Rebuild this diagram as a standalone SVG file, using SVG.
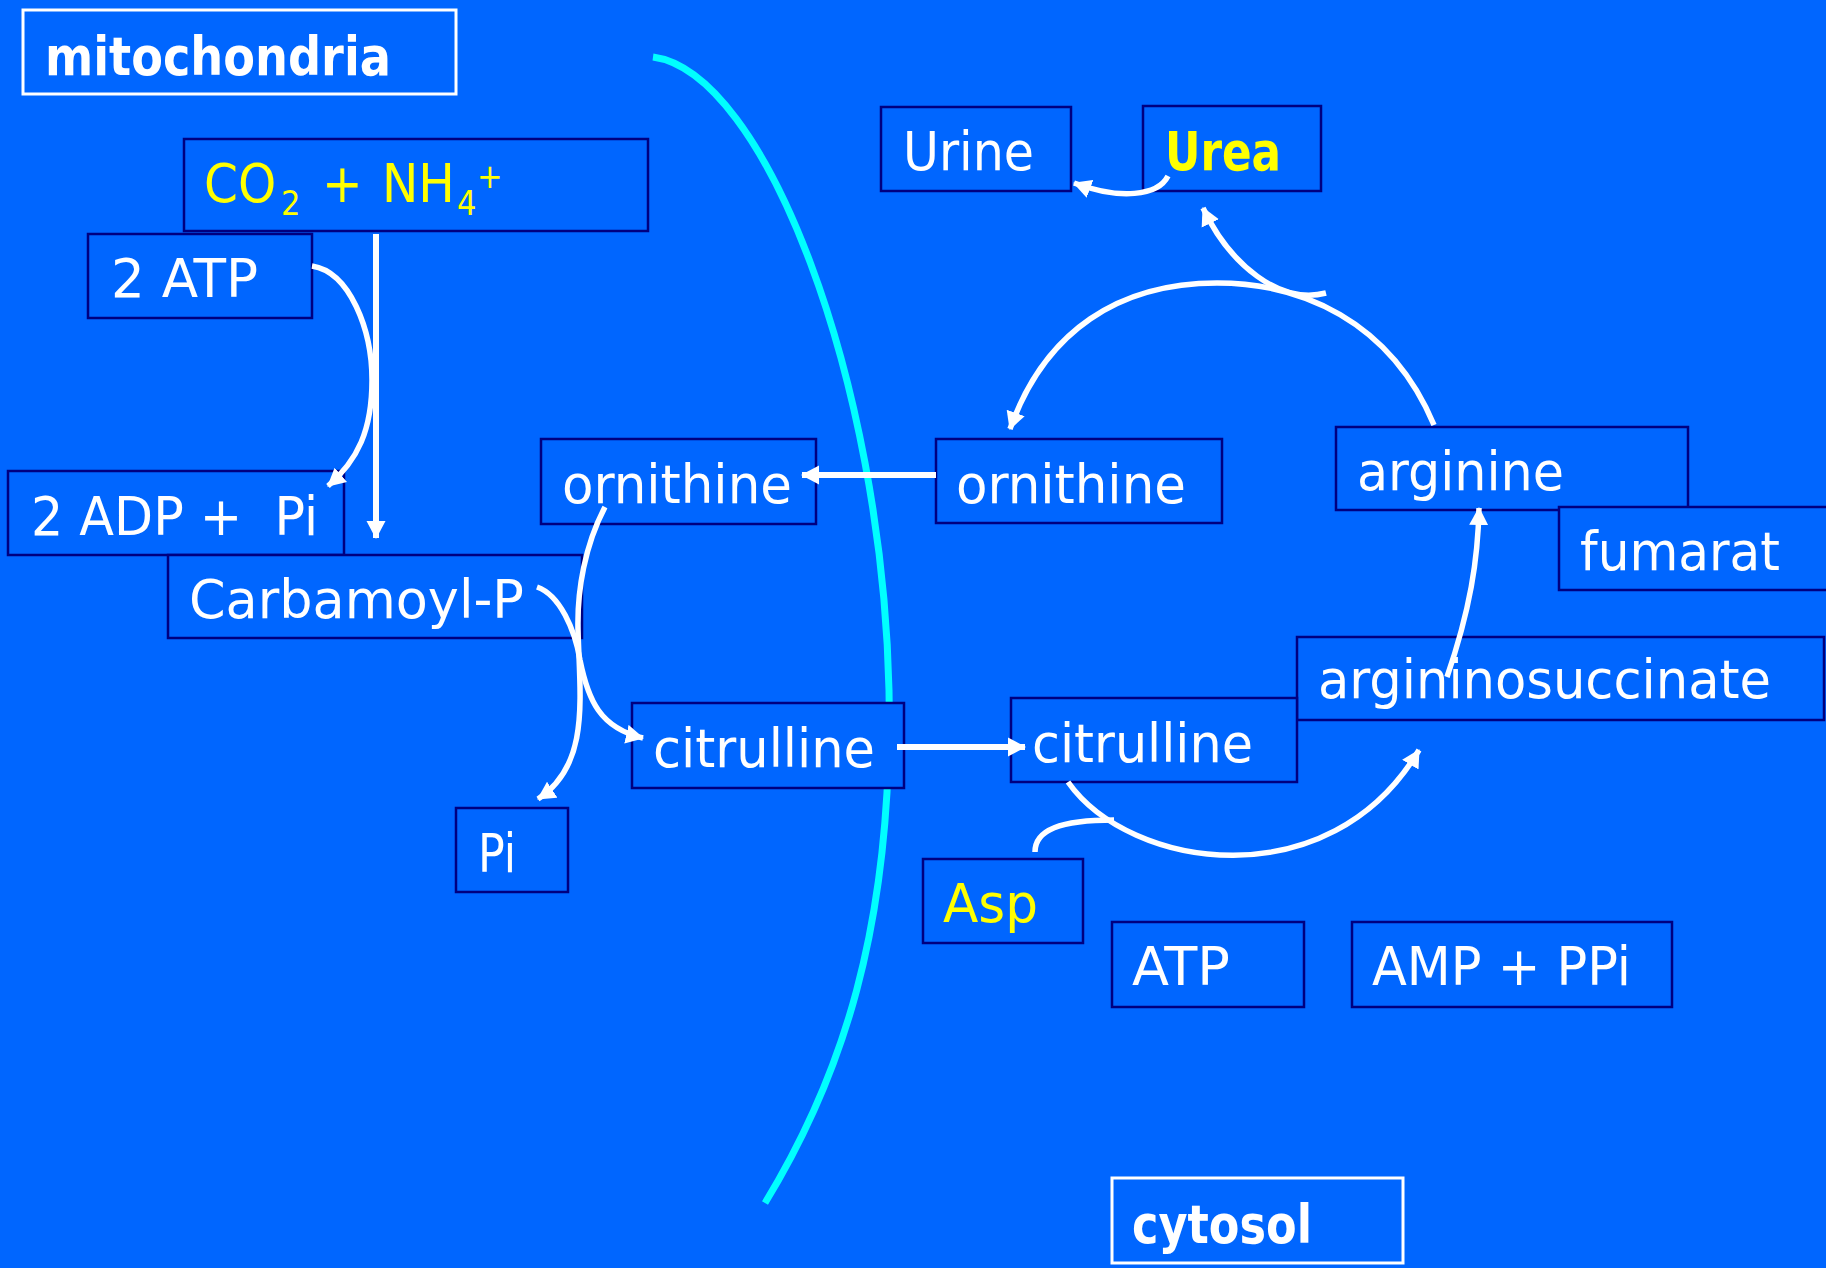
<svg xmlns="http://www.w3.org/2000/svg" width="1826" height="1268" viewBox="0 0 1826 1268">
<defs>
<style>
.bg{fill:#0066FF}
.box{fill:#0066FF;stroke:#000080;stroke-width:2.5}
.title{fill:#0066FF;stroke:#FFFFFF;stroke-width:3}
text{font-family:"DejaVu Sans Condensed","DejaVu Sans",sans-serif;font-size:54px;fill:#FFFFFF}
.b{font-weight:bold}
.y{fill:#FFFF00}
.sm{font-size:34px}
.pre{white-space:pre}
.conn path{fill:none;stroke:#FFFFFF;stroke-width:5.5}
.conn path.st{stroke-width:6}
.membrane{fill:none;stroke:#00FFFF;stroke-width:7}
</style>
<marker id="ah" markerUnits="userSpaceOnUse" markerWidth="20" markerHeight="20" viewBox="0 0 20 20" refX="17" refY="10" orient="auto">
<path d="M0,0.5 L18,10 L0,19.5 Z" fill="#FFFFFF"/>
</marker>
</defs>
<rect class="bg" x="0" y="0" width="1826" height="1268"/>

<path class="membrane" d="M653,57 C765,72 882,380 889,690 C893,930 840,1080 765,1203"/>

<g id="mitochondria"><rect class="title" x="23" y="10" width="433" height="84"/><text class="b" x="45" y="75" textLength="346" lengthAdjust="spacingAndGlyphs">mitochondria</text></g>
<g id="co2nh4"><rect class="box" x="184" y="139" width="464" height="92"/><text class="y"><tspan x="204" y="202">CO</tspan><tspan class="sm" x="281" y="215">2</tspan><tspan x="322" y="202">+</tspan><tspan x="382" y="202">NH</tspan><tspan class="sm" x="457" y="215">4</tspan><tspan class="sm" x="477" y="188">+</tspan></text></g>
<g id="atp2"><rect class="box" x="88" y="234" width="224" height="84"/><text x="111" y="297" textLength="147" lengthAdjust="spacingAndGlyphs">2 ATP</text></g>
<g id="adp2"><rect class="box" x="8" y="471" width="336" height="84"/><text class="pre" x="31" y="535" textLength="287" lengthAdjust="spacingAndGlyphs">2 ADP +  Pi</text></g>
<g id="carbamoylp"><rect class="box" x="168" y="555" width="414" height="83"/><text x="189" y="618" textLength="335" lengthAdjust="spacingAndGlyphs">Carbamoyl-P</text></g>
<g id="ornithine-m"><rect class="box" x="541" y="439" width="275" height="85"/><text x="562" y="503" textLength="230" lengthAdjust="spacingAndGlyphs">ornithine</text></g>
<g id="citrulline-m"><rect class="box" x="632" y="703" width="272" height="85"/><text x="653" y="767" textLength="222" lengthAdjust="spacingAndGlyphs">citrulline</text></g>
<g id="pi"><rect class="box" x="456" y="808" width="112" height="84"/><text x="478" y="872" textLength="38" lengthAdjust="spacingAndGlyphs">Pi</text></g>

<g id="urine"><rect class="box" x="881" y="107" width="190" height="84"/><text x="903" y="170" textLength="131" lengthAdjust="spacingAndGlyphs">Urine</text></g>
<g id="urea"><rect class="box" x="1143" y="106" width="178" height="85"/><text class="b y" x="1165" y="170" textLength="116" lengthAdjust="spacingAndGlyphs">Urea</text></g>
<g id="ornithine-c"><rect class="box" x="936" y="439" width="286" height="84"/><text x="956" y="503" textLength="230" lengthAdjust="spacingAndGlyphs">ornithine</text></g>
<g id="arginine"><rect class="box" x="1336" y="427" width="352" height="83"/><text x="1357" y="490" textLength="207" lengthAdjust="spacingAndGlyphs">arginine</text></g>
<g id="fumarat"><rect class="box" x="1559" y="507" width="270" height="83"/><text x="1580" y="570" textLength="200" lengthAdjust="spacingAndGlyphs">fumarat</text></g>
<g id="argininosuccinate"><rect class="box" x="1297" y="637" width="527" height="83"/><text x="1318" y="698" textLength="453" lengthAdjust="spacingAndGlyphs">argininosuccinate</text></g>
<g id="citrulline-c"><rect class="box" x="1011" y="698" width="286" height="84"/><text x="1032" y="762" textLength="221" lengthAdjust="spacingAndGlyphs">citrulline</text></g>
<g id="asp"><rect class="box" x="923" y="859" width="160" height="84"/><text class="y" x="943" y="922" textLength="95" lengthAdjust="spacingAndGlyphs">Asp</text></g>
<g id="atp"><rect class="box" x="1112" y="922" width="192" height="85"/><text x="1132" y="985" textLength="98" lengthAdjust="spacingAndGlyphs">ATP</text></g>
<g id="amp-ppi"><rect class="box" x="1352" y="922" width="320" height="85"/><text x="1372" y="985" textLength="259" lengthAdjust="spacingAndGlyphs">AMP + PPi</text></g>
<g id="cytosol"><rect class="title" x="1112" y="1178" width="291" height="85"/><text class="b" x="1132" y="1243" textLength="180" lengthAdjust="spacingAndGlyphs">cytosol</text></g>

<g id="connectors" class="conn">
<path class="st" d="M376,234 L376,538" marker-end="url(#ah)"/>
<path d="M312,266 C350,272 372,330 372,380 C372,430 358,460 328,486" marker-end="url(#ah)"/>
<path d="M537,587 C560,595 575,630 580,660 C588,700 600,728 643,738" marker-end="url(#ah)"/>
<path d="M605,507 C585,545 577,590 578,630 C580,700 590,765 538,799" marker-end="url(#ah)"/>
<path class="st" d="M936,475 L802,475" marker-end="url(#ah)"/>
<path class="st" d="M897,747 L1025,747" marker-end="url(#ah)"/>
<path d="M1068,782 C1130,870 1330,900 1419,750" marker-end="url(#ah)"/>
<path d="M1035,852 C1035,830 1060,820 1114,820"/>
<path d="M1447,677 C1470,610 1478,560 1479,508" marker-end="url(#ah)"/>
<path d="M1434,425 C1390,320 1300,283 1217,283 C1120,283 1045,330 1010,429" marker-end="url(#ah)"/>
<path d="M1326,293 C1280,305 1230,265 1203,208" marker-end="url(#ah)"/>
<path d="M1168,176 C1158,196 1120,200 1074,183" marker-end="url(#ah)"/>
</g>
</svg>
